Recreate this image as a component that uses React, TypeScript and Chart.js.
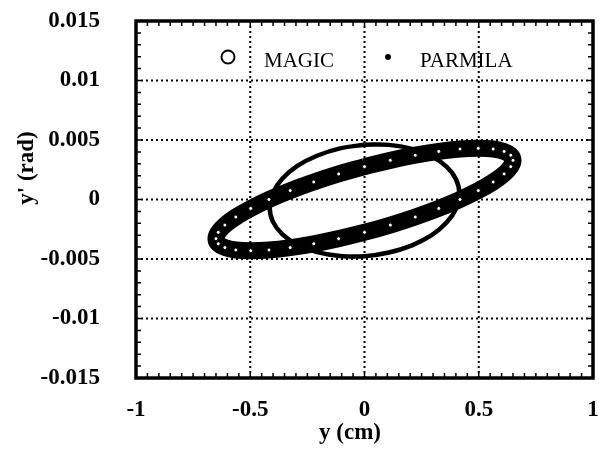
import React, { useEffect, useRef } from "react";
import { Chart, registerables } from "chart.js";

Chart.register(...registerables);

// ---- data ----
const xTickValues = [-1, -0.5, 0, 0.5, 1];
const xTickLabels = ["-1", "-0.5", "0", "0.5", "1"];
const yTickValues = [-0.015, -0.01, -0.005, 0, 0.005, 0.01, 0.015];
const yTickLabels = ["-0.015", "-0.01", "-0.005", "0", "0.005", "0.01", "0.015"];
const seriesNames = ["MAGIC", "PARMILA"];
const xTitle = "y (cm)";
const yTitle = "y' (rad)";

const magicX = [
  0, -0.113, -0.222, -0.325, -0.418, -0.498, -0.563, -0.611, -0.64, -0.65,
  -0.64, -0.611, -0.563, -0.498, -0.418, -0.325, -0.222, -0.113, 0, 0.113,
  0.222, 0.325, 0.418, 0.498, 0.563, 0.611, 0.64, 0.65, 0.64, 0.611, 0.563,
  0.498, 0.418, 0.325, 0.222, 0.113, 0,
];
const magicY = [
  0.00276, 0.00215, 0.00147, 0.00075, 0, -0.00075, -0.00147, -0.00215, -0.00276,
  -0.00329, -0.00372, -0.00404, -0.00424, -0.0043, -0.00424, -0.00404, -0.00372,
  -0.00329, -0.00276, -0.00215, -0.00147, -0.00075, 0, 0.00075, 0.00147, 0.00215,
  0.00276, 0.00329, 0.00372, 0.00404, 0.00424, 0.0043, 0.00424, 0.00404, 0.00372,
  0.00329, 0.00276,
];
const parmilaX = [
  0, -0.107, -0.208, -0.294, -0.359, -0.401, -0.415, -0.401, -0.359, -0.294,
  -0.208, -0.107, 0, 0.107, 0.208, 0.294, 0.359, 0.401, 0.415, 0.401, 0.359,
  0.294, 0.208, 0.107, 0,
];
const parmilaY = [
  0.0046, 0.0043, 0.00368, 0.00282, 0.00176, 0.00056, -0.00068, -0.00186,
  -0.00293, -0.0038, -0.00442, -0.00474, -0.00476, -0.00445, -0.00385, -0.003,
  -0.00194, -0.00076, 0.00048, 0.00168, 0.00276, 0.00363, 0.00426, 0.00459, 0.0046,
];

const toPoints = (xs: number[], ys: number[]) => xs.map((x, i) => ({ x, y: ys[i] }));
const labelFor = (vals: number[], labels: string[], v: number) => {
  const i = vals.findIndex((t) => Math.abs(t - v) < 1e-9);
  return i >= 0 ? labels[i] : "";
};

const FONT = '"Liberation Serif", "Times New Roman", serif';

const decorPlugin = {
  id: "decor",
  beforeDatasetsDraw(chart: any) {
    const { ctx, chartArea: a, scales } = chart;
    const xs = scales.x;
    const ys = scales.y;
    ctx.save();
    ctx.strokeStyle = "#000";
    ctx.lineWidth = 2;
    ctx.setLineDash([2, 3]);
    xTickValues.forEach((v) => {
      const px = xs.getPixelForValue(v);
      if (px > a.left + 3 && px < a.right - 3) {
        ctx.beginPath();
        ctx.moveTo(px, a.top);
        ctx.lineTo(px, a.bottom);
        ctx.stroke();
      }
    });
    yTickValues.forEach((v) => {
      const py = ys.getPixelForValue(v);
      if (py > a.top + 3 && py < a.bottom - 3) {
        ctx.beginPath();
        ctx.moveTo(a.left, py);
        ctx.lineTo(a.right, py);
        ctx.stroke();
      }
    });
    ctx.restore();
  },
  afterDraw(chart: any) {
    const { ctx, chartArea: a, scales } = chart;
    const xs = scales.x;
    const ys = scales.y;
    ctx.save();
    ctx.strokeStyle = "#000";
    ctx.fillStyle = "#000";
    // minor ticks
    ctx.lineWidth = 1.5;
    for (let i = -20; i <= 20; i++) {
      const px = xs.getPixelForValue(i * 0.05);
      ctx.beginPath();
      ctx.moveTo(px, a.bottom);
      ctx.lineTo(px, a.bottom - 5);
      ctx.moveTo(px, a.top);
      ctx.lineTo(px, a.top + 5);
      ctx.stroke();
    }
    for (let i = -15; i <= 15; i++) {
      const py = ys.getPixelForValue(i * 0.001);
      ctx.beginPath();
      ctx.moveTo(a.left, py);
      ctx.lineTo(a.left + 5, py);
      ctx.moveTo(a.right, py);
      ctx.lineTo(a.right - 5, py);
      ctx.stroke();
    }
    // frame
    ctx.lineWidth = 3.5;
    ctx.strokeRect(a.left, a.top, a.right - a.left, a.bottom - a.top);

    // legend
    const ds = chart.data.datasets;
    ctx.font = `21px ${FONT}`;
    ctx.textAlign = "left";
    ctx.textBaseline = "alphabetic";
    ctx.lineWidth = 2;
    ctx.beginPath();
    ctx.arc(228, 57, 6.5, 0, Math.PI * 2);
    ctx.stroke();
    ctx.fillText(ds[0].label, 264, 67);
    ctx.beginPath();
    ctx.arc(388, 57, 3, 0, Math.PI * 2);
    ctx.fill();
    ctx.fillText(ds[1].label, 420, 67);

    // axis titles
    ctx.font = `bold 23px ${FONT}`;
    ctx.textAlign = "center";
    ctx.textBaseline = "middle";
    ctx.fillText(xTitle, 350, 433);
    ctx.translate(27, 168);
    ctx.rotate(-Math.PI / 2);
    ctx.fillText(yTitle, 0, 0);
    ctx.restore();
  },
};

const zeroPad = (s: any) => {
  s.paddingTop = 0;
  s.paddingBottom = 0;
  s.paddingLeft = 0;
  s.paddingRight = 0;
};

export default function App() {
  const ref = useRef<HTMLCanvasElement>(null);
  useEffect(() => {
    const tickFont = { family: FONT, size: 23, weight: "bold" as const };
    const chart = new Chart(ref.current!, {
      type: "scatter",
      data: {
        datasets: [
          {
            label: seriesNames[0],
            data: toPoints(magicX, magicY),
            showLine: true,
            borderColor: "#000",
            borderWidth: 17,
            borderJoinStyle: "round",
            tension: 0.4,
            pointRadius: 2,
            pointBorderWidth: 1,
            pointBorderColor: "#000",
            pointBackgroundColor: "#fff",
            order: 0,
          },
          {
            label: seriesNames[1],
            data: toPoints(parmilaX, parmilaY),
            showLine: true,
            borderColor: "#000",
            borderWidth: 4.5,
            tension: 0.4,
            pointRadius: 0,
            order: 1,
          },
        ],
      },
      options: {
        animation: false,
        responsive: false,
        layout: { padding: { top: 21, right: 6, left: 0, bottom: 0 } },
        plugins: { legend: { display: false }, tooltip: { enabled: false } },
        scales: {
          x: {
            type: "linear",
            min: -1,
            max: 1,
            afterBuildTicks: (s: any) => {
              s.ticks = xTickValues.map((v) => ({ value: v }));
            },
            afterFit: (s: any) => {
              s.height = 75;
              zeroPad(s);
            },
            grid: { display: false, drawTicks: false },
            border: { display: false },
            ticks: {
              autoSkip: false,
              maxRotation: 0,
              padding: 18,
              color: "#000",
              font: tickFont,
              callback: (v: any) => labelFor(xTickValues, xTickLabels, Number(v)),
            },
          },
          y: {
            type: "linear",
            min: -0.015,
            max: 0.015,
            afterBuildTicks: (s: any) => {
              s.ticks = yTickValues.map((v) => ({ value: v }));
            },
            afterFit: (s: any) => {
              s.width = 136;
              zeroPad(s);
            },
            grid: { display: false, drawTicks: false },
            border: { display: false },
            ticks: {
              autoSkip: false,
              padding: 36,
              color: "#000",
              font: tickFont,
              callback: (v: any) => labelFor(yTickValues, yTickLabels, Number(v)),
            },
          },
        },
      },
      plugins: [decorPlugin],
    });
    return () => chart.destroy();
  }, []);
  return (
    <div style={{ position: "fixed", left: 0, top: 0, width: 599, height: 453, background: "#fff" }}>
      <canvas ref={ref} width={599} height={453} style={{ display: "block" }} />
    </div>
  );
}
